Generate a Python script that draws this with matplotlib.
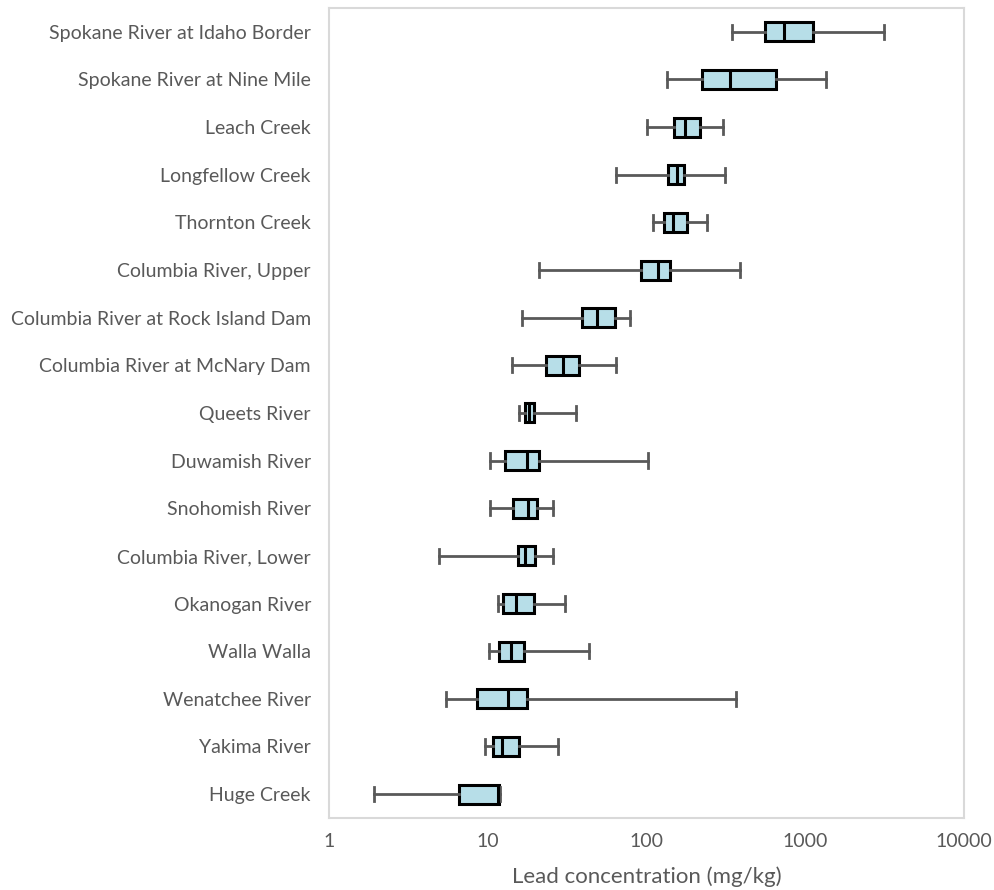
import matplotlib.pyplot as plt

# Lead concentration in sediment, per site (mg/kg), top to bottom
sites = [
    "Spokane River at Idaho Border",
    "Spokane River at Nine Mile",
    "Leach Creek",
    "Longfellow Creek",
    "Thornton Creek",
    "Columbia River, Upper",
    "Columbia River at Rock Island Dam",
    "Columbia River at McNary Dam",
    "Queets River",
    "Duwamish River",
    "Snohomish River",
    "Columbia River, Lower",
    "Okanogan River",
    "Walla Walla",
    "Wenatchee River",
    "Yakima River",
    "Huge Creek",
]
mins = [346, 135, 101, 64, 110, 21, 16.4, 14.2, 15.7, 10.3, 10.3, 4.9, 11.6, 10.2, 5.46, 9.6, 1.92]
q1s = [558, 224, 149, 137, 129, 92, 39, 23.3, 17.2, 12.8, 14.4, 15.5, 12.5, 11.8, 8.55, 10.8, 6.59]
medians = [735, 336, 175, 156, 147, 118, 48.8, 29.8, 18.2, 17.7, 17.9, 17.2, 15.1, 14.0, 13.4, 12.3, 11.6]
q3s = [1119, 654, 217, 172, 180, 141, 63, 37.6, 19.6, 21, 20.4, 19.8, 19.6, 16.9, 17.7, 15.7, 11.8]
maxs = [3133, 1352, 303, 312, 240, 388, 79, 64, 36, 102, 25.8, 25.8, 30.7, 43.4, 366, 27.7, 11.9]

xticks = [1, 10, 100, 1000, 10000]
xtick_labels = ["1", "10", "100", "1000", "10000"]

plt.rcParams['font.family'] = ['Lato', 'DejaVu Sans']
grey = '#595959'

stats = []
for i in range(len(sites)):
    stats.append({
        'whislo': mins[i], 'q1': q1s[i], 'med': medians[i],
        'q3': q3s[i], 'whishi': maxs[i], 'fliers': [],
    })

n = len(sites)
positions = [n - i for i in range(n)]

fig = plt.figure(figsize=(9.94, 8.9), dpi=100)
ax = fig.add_axes([0.331, 0.081, 0.639, 0.910])

ax.bxp(stats, positions=positions, vert=False, widths=0.4, capwidths=0.3,
       patch_artist=True, showfliers=False,
       boxprops=dict(facecolor='#B7DEE8', edgecolor='black', linewidth=2.2),
       medianprops=dict(color='black', linewidth=2.2),
       whiskerprops=dict(color=grey, linewidth=2),
       capprops=dict(color=grey, linewidth=2))

ax.set_xscale('log')
ax.set_xlim(1, 10000)
ax.set_ylim(0.5, n + 0.5)
ax.set_xticks(xticks)
ax.set_xticklabels(xtick_labels)
ax.xaxis.set_minor_locator(plt.NullLocator())
ax.set_yticks(positions)
ax.set_yticklabels(sites)

ax.tick_params(axis='both', length=0, labelsize=14, labelcolor=grey)
ax.tick_params(axis='x', pad=11)
ax.tick_params(axis='y', pad=13)
for spine in ax.spines.values():
    spine.set_color('#D9D9D9')
    spine.set_linewidth(1.5)

ax.set_xlabel('Lead concentration (mg/kg)', fontsize=16, color=grey, labelpad=12)

fig.savefig('out.png', dpi=100)
